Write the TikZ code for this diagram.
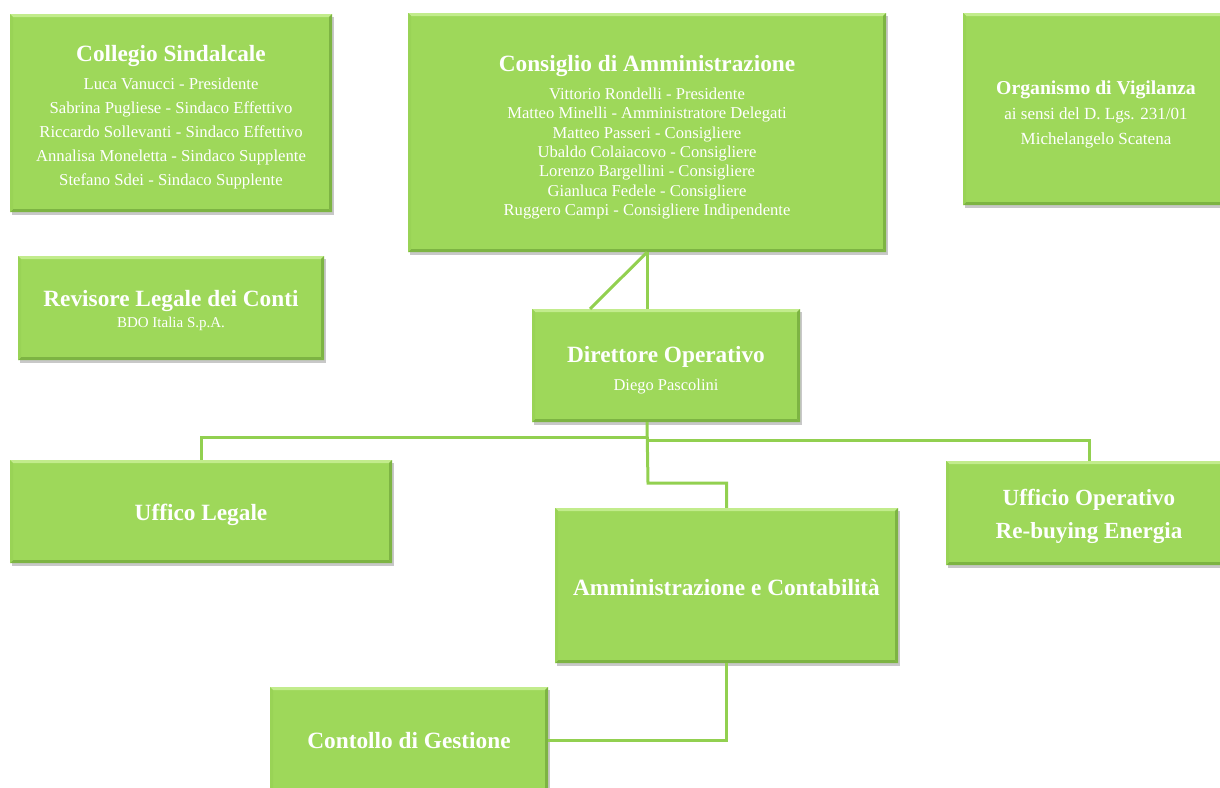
\documentclass[tikz,border=0pt]{standalone}
\usepackage{fontspec}
\setmainfont{Liberation Serif}
\usetikzlibrary{shadows}
\definecolor{boxgreen}{HTML}{9ED85A}
\definecolor{boxlight}{HTML}{C2EC8C}
\definecolor{boxdark}{HTML}{7DB443}
\definecolor{linegreen}{HTML}{92D050}
\newcommand{\orgttl}{\fontsize{23.3}{28}\selectfont\bfseries}
\tikzset{
  orgbox/.style={fill=boxgreen, draw=none, inner sep=0pt,
    drop shadow={shadow xshift=2pt, shadow yshift=-3pt, opacity=0.3, fill=black!70},
    path picture={
      \fill[boxlight] (path picture bounding box.north west) -- (path picture bounding box.north east)
        -- ([xshift=-3pt,yshift=-3pt]path picture bounding box.north east)
        -- ([xshift=3pt,yshift=-3pt]path picture bounding box.north west) -- cycle;
      \fill[boxdark] (path picture bounding box.south west) -- (path picture bounding box.south east)
        -- ([xshift=-3pt,yshift=3pt]path picture bounding box.south east)
        -- ([xshift=3pt,yshift=3pt]path picture bounding box.south west) -- cycle;
      \fill[boxdark] (path picture bounding box.north east) -- (path picture bounding box.south east)
        -- ([xshift=-3pt,yshift=3pt]path picture bounding box.south east)
        -- ([xshift=-3pt,yshift=-3pt]path picture bounding box.north east) -- cycle;
      \fill[boxgreen!85!boxdark] (path picture bounding box.north west) -- (path picture bounding box.south west)
        -- ([xshift=3pt,yshift=3pt]path picture bounding box.south west)
        -- ([xshift=3pt,yshift=-3pt]path picture bounding box.north west) -- cycle;
    }},
  orgtext/.style={inner sep=0pt, align=center, text=white},
  conn/.style={draw=linegreen, line width=3pt}
}
\begin{document}
\begin{tikzpicture}[x=1pt,y=-1pt]
\useasboundingbox (0,0) rectangle (1220,787);
\clip (0,0) rectangle (1220,787);
\fill[white] (0,0) rectangle (1220,787);

\coordinate (busL) at (201,437);
\coordinate (busR) at (1089,440);
\coordinate (diagEnd) at (590,309);

% boxes
\node[orgbox, minimum width=322pt, minimum height=198pt] (coll) at (171,113) {};
\node[orgbox, minimum width=478pt, minimum height=239pt] (cda) at (647,132.5) {};
\node[orgbox, minimum width=266pt, minimum height=192pt] (odv) at (1096,109) {};
\node[orgbox, minimum width=306pt, minimum height=104pt] (rev) at (171,308) {};
\node[orgbox, minimum width=268pt, minimum height=113pt] (dir) at (666,365.5) {};
\node[orgbox, minimum width=382pt, minimum height=103pt] (leg) at (201,511.5) {};
\node[orgbox, minimum width=343pt, minimum height=155pt] (amm) at (726.5,585.5) {};
\node[orgbox, minimum width=286pt, minimum height=104pt] (uop) at (1089,513) {};
\node[orgbox, minimum width=278pt, minimum height=106pt] (ctl) at (409,740) {};

% texts
\node[orgtext, font=\fontsize{16.7}{24}\selectfont] (collT) at ([yshift=-4pt]coll.center)
 {{\orgttl Collegio Sindalcale}\\[4pt]
  Luca Vanucci - Presidente\\
  Sabrina Pugliese - Sindaco Effettivo\\
  Riccardo Sollevanti - Sindaco Effettivo\\
  Annalisa Moneletta - Sindaco Supplente\\
  Stefano Sdei - Sindaco Supplente};

\node[orgtext, font=\fontsize{16.6}{19.35}\selectfont] (cdaT) at ([yshift=-4.5pt]cda.center)
 {{\orgttl Consiglio di Amministrazione}\\[9pt]
  Vittorio Rondelli - Presidente\\
  Matteo Minelli - Amministratore Delegati\\
  Matteo Passeri - Consigliere\\
  Ubaldo Colaiacovo - Consigliere\\
  Lorenzo Bargellini - Consigliere\\
  Gianluca Fedele - Consigliere\\
  Ruggero Campi - Consigliere Indipendente};

\node[orgtext, font=\fontsize{17}{25}\selectfont] (odvT) at ([yshift=-5pt]odv.center)
 {{\fontsize{19.7}{22}\selectfont\bfseries Organismo di Vigilanza}\\[0pt]
  ai sensi del D. Lgs. 231/01\\
  Michelangelo Scatena};

\node[orgtext, font=\fontsize{15}{22}\selectfont] (revT) at ([yshift=-3pt]rev.center)
 {{\orgttl Revisore Legale dei Conti}\\[-1pt]
  BDO Italia S.p.A.};

\node[orgtext, font=\fontsize{16.5}{24}\selectfont] (dirT) at ([yshift=-5pt]dir.center)
 {{\orgttl Direttore Operativo}\\[4pt]
  Diego Pascolini};

\node[orgtext, font=\orgttl] (legT) at ([yshift=-3pt]leg.center) {Uffico Legale};
\node[orgtext, font=\orgttl] (ammT) at ([yshift=-2pt]amm.center) {Amministrazione e Contabilità};
\node[orgtext, font=\fontsize{23.1}{33}\selectfont\bfseries] (uopT) at ([yshift=-3pt]uop.center)
 {Ufficio Operativo\\Re-buying Energia};
\node[orgtext, font=\orgttl] (ctlT) at ([yshift=-1pt]ctl.center) {Contollo di Gestione};

% connectors
\draw[conn] (cda.south) -- (cda.south |- dir.north);
\draw[conn] (cda.south) -- (diagEnd);
\draw[conn] (dir.south -| cda.south) -- (648,483) -- (amm.north |- 0,483) -- (amm.north);
\draw[conn] (648,437) -- (busL) -- (leg.north -| busL);
\draw[conn] (648,440) -- (busR) -- (uop.north -| busR);
\draw[conn] (amm.south) -- (amm.south |- ctl.east) -- (ctl.east);
\end{tikzpicture}
\end{document}
